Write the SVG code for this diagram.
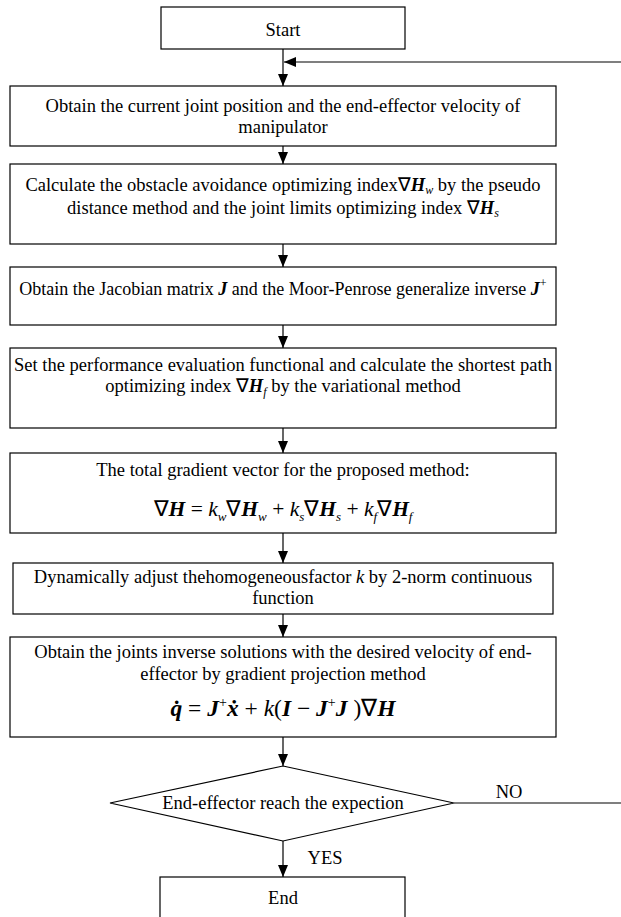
<svg xmlns="http://www.w3.org/2000/svg" width="621" height="917" viewBox="0 0 621 917">
<style>
  .box { fill: #fff; stroke: #000; stroke-width: 1.2; }
  .t { font-family: "Liberation Serif", "Times New Roman", serif; font-size: 18.5px; fill: #000; text-anchor: middle; }
  .f { font-family: "Liberation Serif", "Times New Roman", serif; font-size: 21.5px; fill: #000; text-anchor: middle; }
  .g { font-family: "Liberation Serif", "Times New Roman", serif; font-size: 23.5px; fill: #000; text-anchor: middle; }
  .bi { font-weight: bold; font-style: italic; }
  .i { font-style: italic; }
  .conn { fill: none; stroke: #000; stroke-width: 1.2; }
</style>
<defs>
  <marker id="arr" markerWidth="12" markerHeight="10" refX="12" refY="5" orient="auto" markerUnits="userSpaceOnUse">
    <path d="M0,0 L12,5 L0,10 Z" fill="#000"/>
  </marker>
</defs>
<rect width="621" height="917" fill="#fff"/>

<g id="connectors">
  <line class="conn" x1="283" y1="49" x2="283" y2="86" marker-end="url(#arr)"/>
  <line class="conn" x1="283" y1="146" x2="283" y2="164" marker-end="url(#arr)"/>
  <line class="conn" x1="283" y1="244" x2="283" y2="267" marker-end="url(#arr)"/>
  <line class="conn" x1="283" y1="325" x2="283" y2="348" marker-end="url(#arr)"/>
  <line class="conn" x1="283" y1="428" x2="283" y2="453" marker-end="url(#arr)"/>
  <line class="conn" x1="283" y1="533" x2="283" y2="563" marker-end="url(#arr)"/>
  <line class="conn" x1="283" y1="614" x2="283" y2="637" marker-end="url(#arr)"/>
  <line class="conn" x1="283" y1="737" x2="283" y2="766" marker-end="url(#arr)"/>
  <line class="conn" x1="283" y1="841" x2="283" y2="877" marker-end="url(#arr)"/>
  <path class="conn" d="M454,803 L623,803 L623,62 L284,62" marker-end="url(#arr)"/>
  <text class="t" x="509" y="798">NO</text>
  <text class="t" x="325" y="864">YES</text>
</g>

<g id="start">
  <rect class="box" x="161" y="7" width="244" height="42"/>
  <text class="t" x="283" y="36">Start</text>
</g>

<g id="step1">
  <rect class="box" x="10" y="86" width="546" height="60"/>
  <text class="t" x="283" y="112">Obtain the current joint position and the end-effector velocity of</text>
  <text class="t" x="283" y="133">manipulator</text>
</g>

<g id="step2">
  <rect class="box" x="10" y="164" width="546" height="80"/>
  <text class="t" x="283" y="191">Calculate the obstacle avoidance optimizing index∇<tspan class="bi">H</tspan><tspan class="i" font-size="12" dy="3">w</tspan><tspan dy="-3"> by the pseudo</tspan></text>
  <text class="t" x="283" y="214">distance method and the joint limits optimizing index  ∇<tspan class="bi">H</tspan><tspan class="i" font-size="12" dy="3">s</tspan></text>
</g>

<g id="step3">
  <rect class="box" x="10" y="267" width="546" height="58"/>
  <text class="t" x="283" y="295" style="font-size:18px">Obtain the Jacobian matrix <tspan class="bi">J</tspan> and the Moor-Penrose generalize inverse <tspan class="bi">J</tspan><tspan font-size="12" dy="-8">+</tspan></text>
</g>

<g id="step4">
  <rect class="box" x="10" y="348" width="546" height="80"/>
  <text class="t" x="283" y="371">Set the performance evaluation functional and calculate the shortest path</text>
  <text class="t" x="283" y="392">optimizing index ∇<tspan class="bi">H</tspan><tspan class="i" font-size="12" dy="4">f</tspan><tspan dy="-4"> by the variational method</tspan></text>
</g>

<g id="step5">
  <rect class="box" x="10" y="453" width="546" height="80"/>
  <text class="t" x="283" y="476">The total gradient vector for the proposed method:</text>
  <text class="f" x="283" y="516">∇<tspan class="bi">H</tspan> = <tspan class="i">k</tspan><tspan class="i" font-size="13" dy="5">w</tspan><tspan dy="-5">∇</tspan><tspan class="bi">H</tspan><tspan class="i" font-size="13" dy="5">w</tspan><tspan dy="-5"> + </tspan><tspan class="i">k</tspan><tspan class="i" font-size="13" dy="5">s</tspan><tspan dy="-5">∇</tspan><tspan class="bi">H</tspan><tspan class="i" font-size="13" dy="5">s</tspan><tspan dy="-5"> + </tspan><tspan class="i">k</tspan><tspan class="i" font-size="13" dy="5">f</tspan><tspan dy="-5">∇</tspan><tspan class="bi">H</tspan><tspan class="i" font-size="13" dy="5">f</tspan></text>
</g>

<g id="step6">
  <rect class="box" x="13" y="563" width="540" height="51"/>
  <text class="t" x="283" y="583">Dynamically adjust thehomogeneousfactor <tspan class="i">k</tspan> by 2-norm continuous</text>
  <text class="t" x="283" y="604">function</text>
</g>

<g id="step7">
  <rect class="box" x="10" y="637" width="546" height="100"/>
  <text class="t" x="283" y="658">Obtain the joints inverse solutions with the desired velocity of end-</text>
  <text class="t" x="283" y="680">effector by gradient projection method</text>
  <text class="g" x="283" y="716"><tspan class="bi">q̇</tspan> = <tspan class="bi">J</tspan><tspan font-size="14" dy="-9">+</tspan><tspan class="bi" dy="9">ẋ</tspan> + <tspan class="i">k</tspan>(<tspan class="bi">I</tspan> − <tspan class="bi">J</tspan><tspan font-size="14" dy="-9">+</tspan><tspan class="bi" dy="9">J</tspan> )∇<tspan class="bi">H</tspan></text>
</g>

<g id="decision">
  <polygon class="box" points="283,766 454,803 283,841 110,803"/>
  <text class="t" x="283" y="809">End-effector reach the expection</text>
</g>

<g id="end">
  <rect class="box" x="160" y="877" width="245" height="45"/>
  <text class="t" x="283" y="904">End</text>
</g>
</svg>
